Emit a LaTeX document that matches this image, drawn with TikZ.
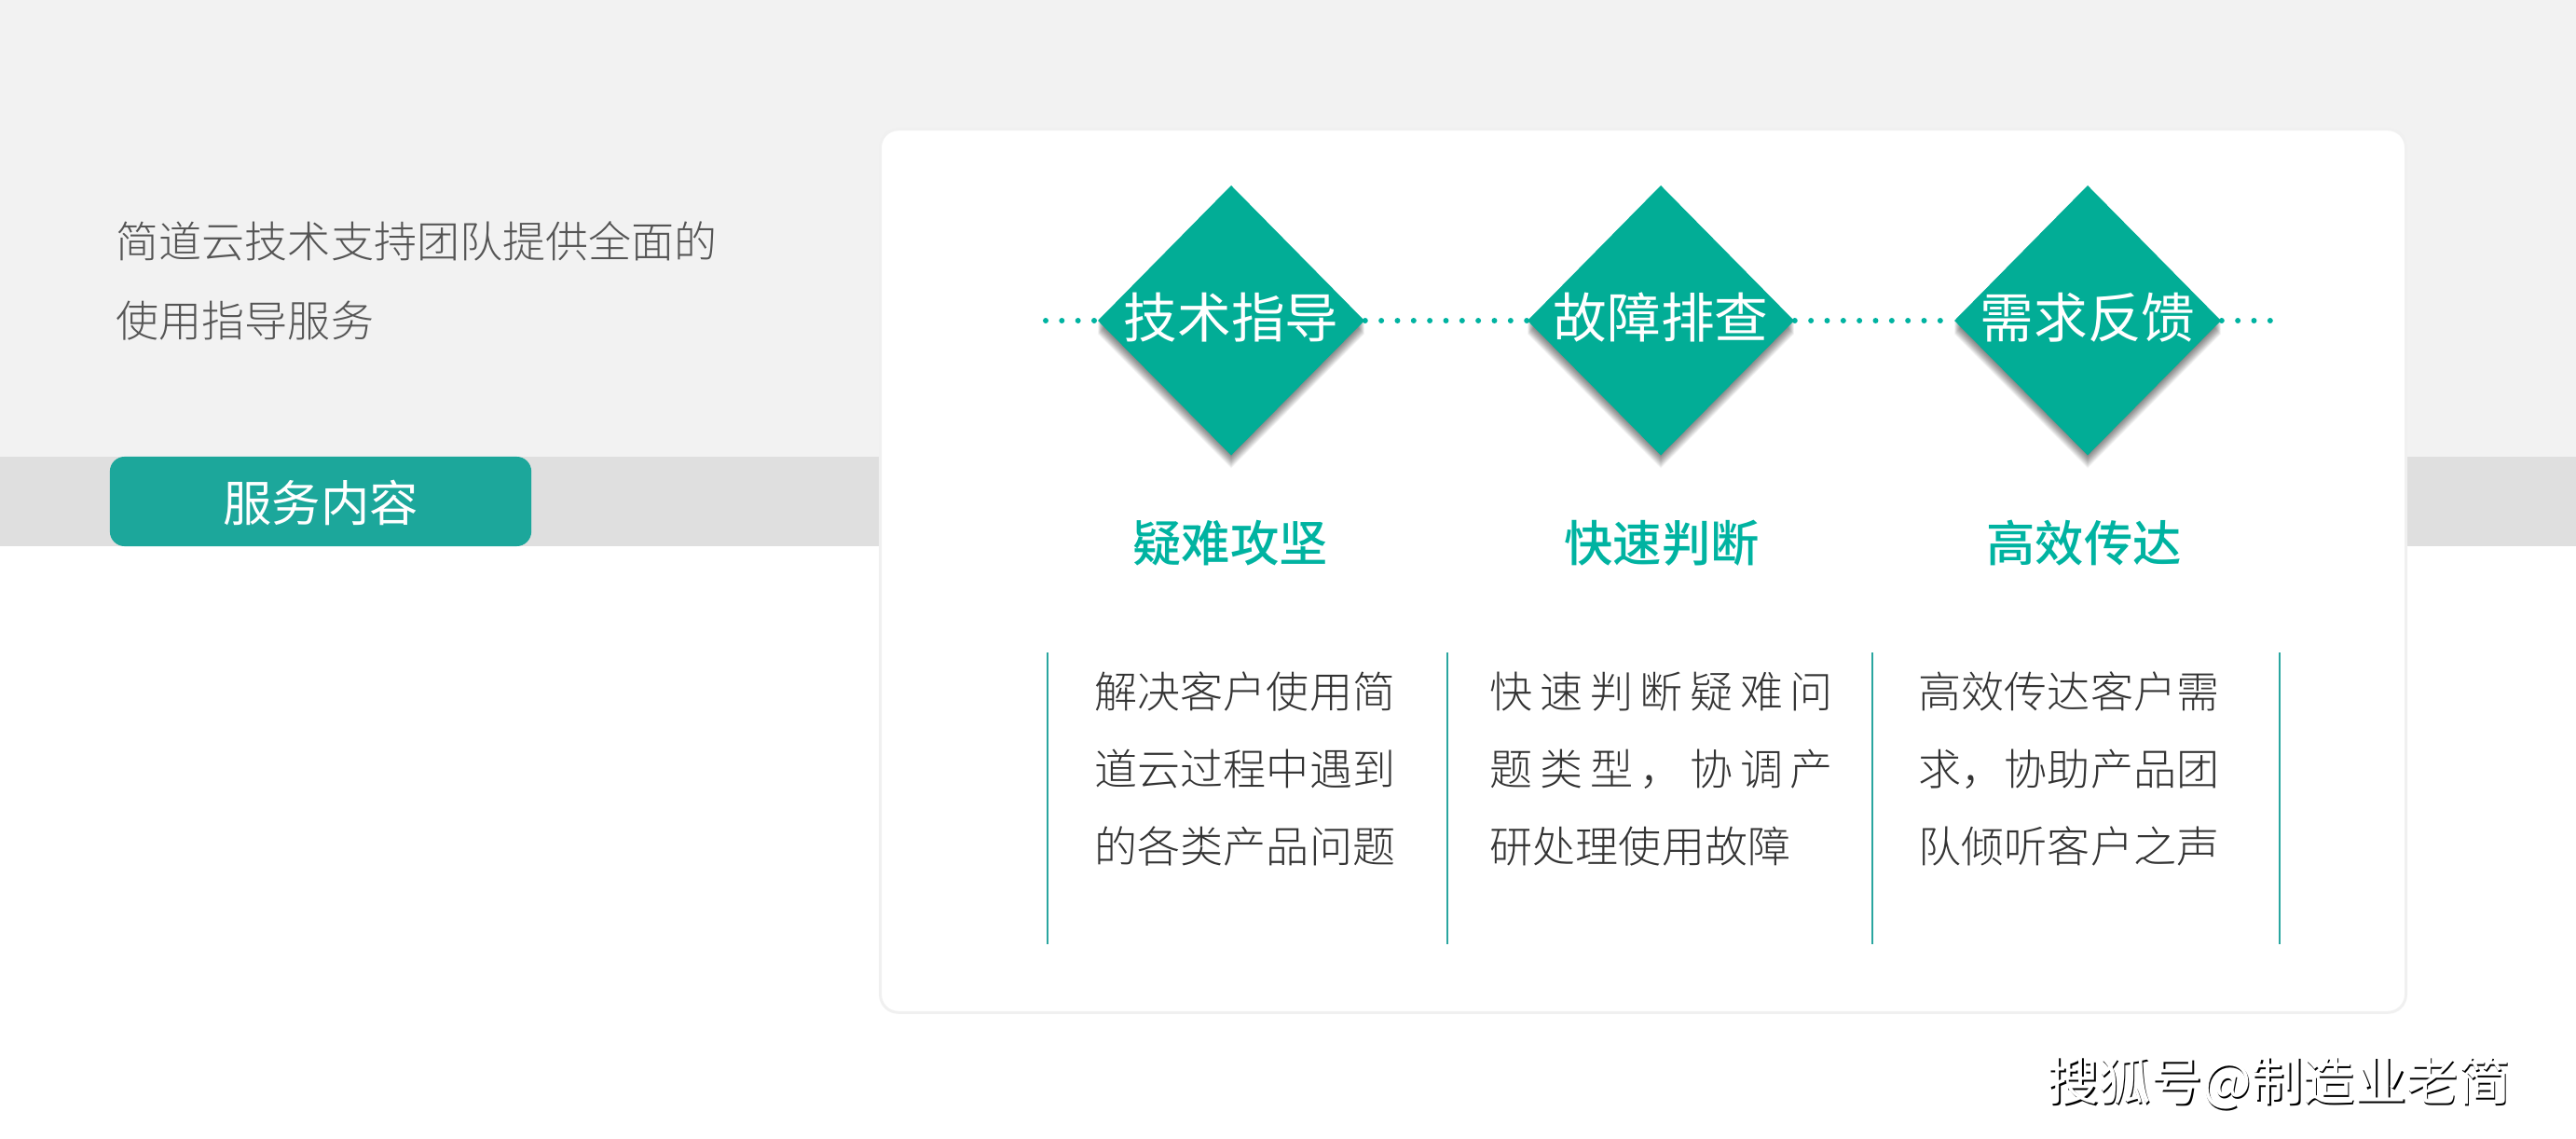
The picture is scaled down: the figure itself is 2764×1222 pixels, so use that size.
\documentclass[tikz,border=0pt]{standalone}
\usepackage{fontspec}
\usetikzlibrary{shapes.geometric}
\setmainfont{Noto Sans CJK SC}[UprightFont=* Light,BoldFont=* Medium]
\newfontfamily\regf{Noto Sans CJK SC}
\definecolor{topgrey}{HTML}{F2F2F2}
\definecolor{bandgrey}{HTML}{DFDFDF}
\definecolor{btn}{HTML}{1CA79B}
\definecolor{dia}{HTML}{02AD96}
\definecolor{head}{HTML}{00B3A1}
\definecolor{rule}{HTML}{2AA6A0}
\definecolor{bodyc}{HTML}{333333}
\definecolor{leftc}{HTML}{555555}
\tikzset{
  px/.style={x=0.01cm,y=-0.01cm},
  cardbox/.style={draw=black!6,line width=0.85pt,fill=white,rounded corners=5.5pt,minimum width=16.36cm,minimum height=9.47cm,inner sep=0pt},
  btnbox/.style={fill=btn,rounded corners=4.5pt,minimum width=4.52cm,minimum height=0.96cm,inner sep=0pt},
  diabox/.style={diamond,minimum width=2.86cm,minimum height=2.89cm,inner sep=0pt,shape aspect=1},
  diatext/.style={text=white,inner sep=0pt,font=\regf\fontsize{16.4}{20}\selectfont},
  headtext/.style={text=head,inner sep=0pt,font=\bfseries\fontsize{14.9}{18}\selectfont},
  bodytext/.style={text=bodyc,inner sep=0pt,align=left,anchor=west,font=\fontsize{13.1}{23.6}\selectfont},
  lefttext/.style={text=leftc,inner sep=0pt,align=left,anchor=west,font=\fontsize{13.1}{24.2}\selectfont},
  btntext/.style={text=white,inner sep=0pt,font=\regf\fontsize{14.9}{18}\selectfont},
  marktext/.style={inner sep=0pt,font=\regf\fontsize{15.8}{18}\selectfont},
  dots/.style={draw=head,line width=1.7pt,line cap=round,dash pattern=on 0pt off 4.93pt},
  vrule/.style={draw=rule,line width=0.6pt},
}
\begin{document}
\begin{tikzpicture}[px]
\useasboundingbox (0,0) rectangle (2764,1222);
\fill[white] (0,0) rectangle (2764,1222);
\fill[topgrey] (0,0) rectangle (2764,490);
\fill[bandgrey] (0,490) rectangle (2764,586);
\node[cardbox] (card) at (1763,612.5) {};
\node[btnbox] (btn) at (344,538) {};
\node[btntext] (btnt) at (344,539) {服务内容};
\node[lefttext] (lead) at (124,301) {简道云技术支持团队提供全面的\\使用指导服务};
% connector anchors
\coordinate (dl) at (1122,344);
\coordinate (dr) at (2445,344);
\node[diabox] (d1) at (1321,344) {};
\node[diabox] (d2) at (1782,344) {};
\node[diabox] (d3) at (2240,344) {};
\draw[dots] (dl) -- (d1.west);
\draw[dots] (d1.east) -- (d2.west);
\draw[dots] (d2.east) -- (d3.west);
\draw[dots] (d3.east) -- (dr);
% diamond shadows and faces
\foreach \c in {1321,1782,2240}{
  \foreach \i in {1,...,16}{
    \fill[black,opacity=0.035] (\c-143,344+\i*0.9) -- (\c,199+\i*0.9) -- (\c+143,344+\i*0.9) -- (\c,488+\i*0.9) -- cycle;
  }
  \fill[dia] (\c-143,344) -- (\c,199) -- (\c+143,344) -- (\c,488.5) -- cycle;
}
\node[diatext] (t1) at (1321,341) {技术指导};
\node[diatext] (t2) at (1782,341) {故障排查};
\node[diatext] (t3) at (2240,341) {需求反馈};
\node[headtext] (h1) at (1320,583) {疑难攻坚};
\node[headtext] (h2) at (1783,583) {快速判断};
\node[headtext] (h3) at (2236,583) {高效传达};
\draw[vrule] (1124,700) -- (1124,1013);
\draw[vrule] (1553,700) -- (1553,1013);
\draw[vrule] (2009,700) -- (2009,1013);
\draw[vrule] (2446,700) -- (2446,1013);
\node[bodytext] (b1) at (1174,825) {解决客户使用简\\道云过程中遇到\\的各类产品问题};
\node[bodytext] (b2) at (1598,825) {\hbox to 3.68cm{快\hfill 速\hfill 判\hfill 断\hfill 疑\hfill 难\hfill 问}\\\hbox to 3.68cm{题\hfill 类\hfill 型\hfill ，\hfill 协\hfill 调\hfill 产}\\研处理使用故障};
\node[bodytext] (b3) at (2058,825) {高效传达客户需\\求，协助产品团\\队倾听客户之声};
\node[marktext,text=black] (ws) at (2446.5,1163.5) {搜狐号@制造业老简};
\node[marktext,text=white] (w) at (2445,1162) {搜狐号@制造业老简};
\end{tikzpicture}
\end{document}
